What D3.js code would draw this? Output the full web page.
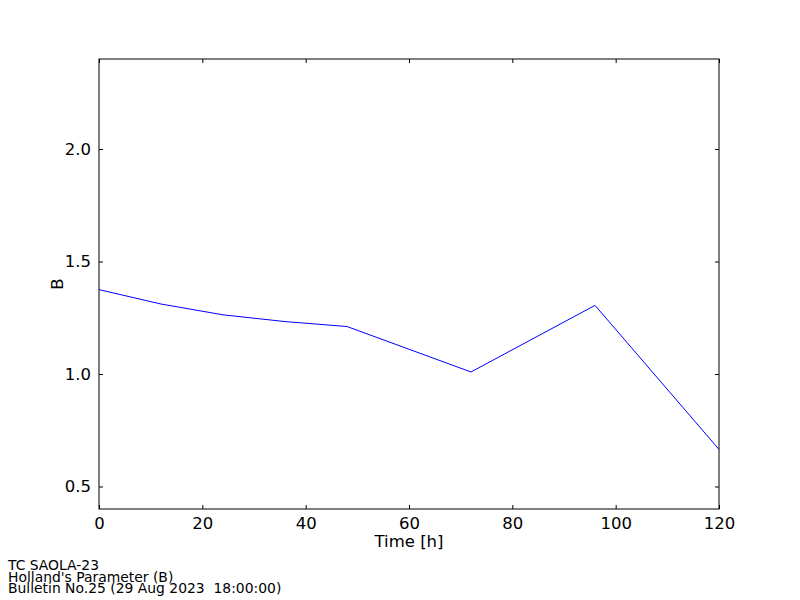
<!doctype html>
<html lang="en">
<head>
  <meta charset="utf-8">
  <title>Holland's Parameter (B)</title>
  <script src="https://cdn.jsdelivr.net/npm/d3@7"></script>
  <style>
    body { margin: 0; background: #fff; }
    svg text { font-family: "DejaVu Sans", sans-serif; fill: #000; }
    .foot { white-space: pre; }
  </style>
</head>
<body>
  <div id="chart"></div>

  <script>
    // data
    var hours = [0, 12, 24, 36, 48, 72, 96, 120];
    var bValues = [1.375, 1.311, 1.263, 1.233, 1.211, 1.009, 1.305, 0.665];
    var xTicks = [0, 20, 40, 60, 80, 100, 120];
    var yTicks = [0.5, 1.0, 1.5, 2.0];
    var footer = ["TC SAOLA-23", "Holland's Parameter (B)", "Bulletin No.25 (29 Aug 2023  18:00:00)"];

    // plot area in page pixels
    var margin = { top: 59, right: 81, bottom: 91, left: 99 },
      width = 800 - margin.left - margin.right,
      height = 600 - margin.top - margin.bottom;

    var svg = d3.select("#chart")
      .append("svg")
      .attr("width", 800)
      .attr("height", 600);

    var g = svg.append("g")
      .attr("transform", "translate(" + margin.left + "," + margin.top + ")");

    var x = d3.scaleLinear().domain([0, 120]).range([0, width]);
    var y = d3.scaleLinear().domain([0.4, 2.4]).range([height, 0]);

    // the line
    var line = d3.line()
      .x(function (d, i) { return x(hours[i]); })
      .y(function (d) { return y(d); });

    g.append("path")
      .datum(bValues)
      .attr("d", line)
      .attr("fill", "none")
      .attr("stroke", "#0000ff")
      .attr("stroke-width", 1);

    // inward ticks on all four sides (matplotlib classic)
    function styleAxis(sel) {
      sel.select(".domain").remove();
      sel.selectAll(".tick line").attr("stroke", "#000").attr("stroke-width", 1);
    }

    var xb = g.append("g")
      .attr("transform", "translate(0," + height + ")")
      .call(d3.axisBottom(x).tickValues(xTicks).tickSize(-4).tickPadding(8).tickFormat(d3.format("d")));
    styleAxis(xb);
    xb.selectAll("text").attr("font-size", "16.5px");

    var xt = g.append("g")
      .call(d3.axisTop(x).tickValues(xTicks).tickSize(-4).tickFormat(""));
    styleAxis(xt);

    var yl = g.append("g")
      .call(d3.axisLeft(y).tickValues(yTicks).tickSize(-4).tickPadding(8).tickFormat(d3.format(".1f")));
    styleAxis(yl);
    yl.selectAll("text").attr("font-size", "16.5px");

    var yr = g.append("g")
      .attr("transform", "translate(" + width + ",0)")
      .call(d3.axisRight(y).tickValues(yTicks).tickSize(-4).tickFormat(""));
    styleAxis(yr);

    // frame
    g.append("rect")
      .attr("x", 0).attr("y", 0)
      .attr("width", width).attr("height", height)
      .attr("fill", "none")
      .attr("stroke", "#000")
      .attr("stroke-width", 1);

    // axis labels
    g.append("text")
      .attr("x", width / 2)
      .attr("y", height + 38)
      .attr("text-anchor", "middle")
      .attr("font-size", "16.5px")
      .text("Time [h]");

    g.append("text")
      .attr("transform", "translate(-36," + (height / 2) + ") rotate(-90)")
      .attr("text-anchor", "middle")
      .attr("font-size", "16.5px")
      .text("B");

    // footer
    svg.selectAll(".foot")
      .data(footer)
      .enter()
      .append("text")
      .attr("class", "foot")
      .attr("x", 8)
      .attr("y", function (d, i) { return 570 + i * 11.6; })
      .attr("font-size", "13.9px")
      .text(function (d) { return d; });
  </script>
</body>
</html>
